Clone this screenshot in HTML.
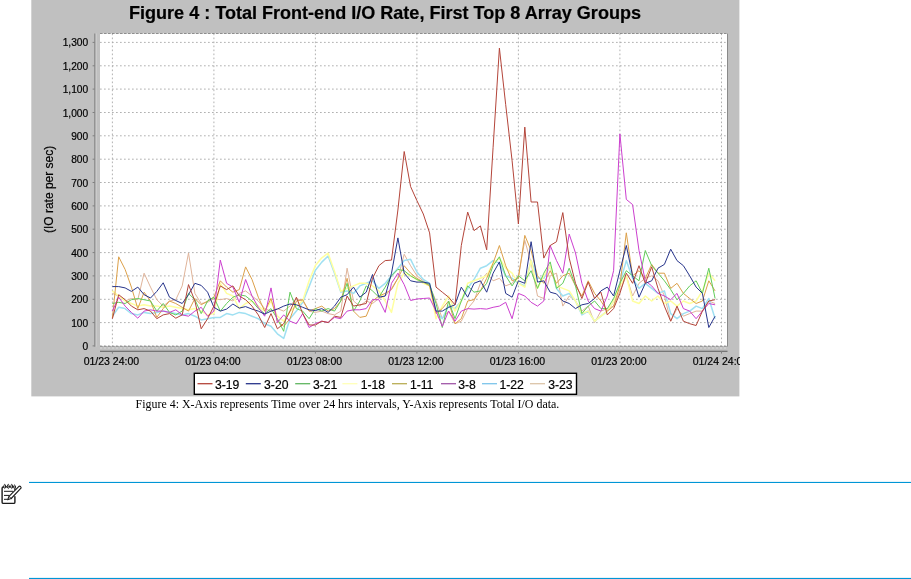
<!DOCTYPE html>
<html><head><meta charset="utf-8"><title>Figure 4</title>
<style>
html,body{margin:0;padding:0;background:#fff;}
body{width:911px;height:579px;position:relative;overflow:hidden;}
.ar{font-family:"Liberation Sans",Arial,sans-serif;fill:#000;stroke:#000;stroke-width:0.2px;}
.se{font-family:"Liberation Serif","Times New Roman",serif;fill:#000;}
</style></head><body>
<svg width="911" height="579" viewBox="0 0 911 579" style="position:absolute;left:0;top:0;will-change:transform">
<rect x="31.3" y="0" width="708.1" height="396.4" fill="#c0c0c0"/>
<rect x="100.0" y="33.5" width="627.5" height="312.4" fill="#ffffff"/>
<line x1="100.0" x2="727.5" y1="345.9" y2="345.9" stroke="#a8a8a8" stroke-width="0.9" stroke-dasharray="1.7,2.3"/>
<line x1="100.0" x2="727.5" y1="322.6" y2="322.6" stroke="#a8a8a8" stroke-width="0.9" stroke-dasharray="1.7,2.3"/>
<line x1="100.0" x2="727.5" y1="299.3" y2="299.3" stroke="#a8a8a8" stroke-width="0.9" stroke-dasharray="1.7,2.3"/>
<line x1="100.0" x2="727.5" y1="275.9" y2="275.9" stroke="#a8a8a8" stroke-width="0.9" stroke-dasharray="1.7,2.3"/>
<line x1="100.0" x2="727.5" y1="252.6" y2="252.6" stroke="#a8a8a8" stroke-width="0.9" stroke-dasharray="1.7,2.3"/>
<line x1="100.0" x2="727.5" y1="229.2" y2="229.2" stroke="#a8a8a8" stroke-width="0.9" stroke-dasharray="1.7,2.3"/>
<line x1="100.0" x2="727.5" y1="205.9" y2="205.9" stroke="#a8a8a8" stroke-width="0.9" stroke-dasharray="1.7,2.3"/>
<line x1="100.0" x2="727.5" y1="182.5" y2="182.5" stroke="#a8a8a8" stroke-width="0.9" stroke-dasharray="1.7,2.3"/>
<line x1="100.0" x2="727.5" y1="159.2" y2="159.2" stroke="#a8a8a8" stroke-width="0.9" stroke-dasharray="1.7,2.3"/>
<line x1="100.0" x2="727.5" y1="135.8" y2="135.8" stroke="#a8a8a8" stroke-width="0.9" stroke-dasharray="1.7,2.3"/>
<line x1="100.0" x2="727.5" y1="112.5" y2="112.5" stroke="#a8a8a8" stroke-width="0.9" stroke-dasharray="1.7,2.3"/>
<line x1="100.0" x2="727.5" y1="89.1" y2="89.1" stroke="#a8a8a8" stroke-width="0.9" stroke-dasharray="1.7,2.3"/>
<line x1="100.0" x2="727.5" y1="65.8" y2="65.8" stroke="#a8a8a8" stroke-width="0.9" stroke-dasharray="1.7,2.3"/>
<line x1="100.0" x2="727.5" y1="42.4" y2="42.4" stroke="#a8a8a8" stroke-width="0.9" stroke-dasharray="1.7,2.3"/>
<line x1="112.4" x2="112.4" y1="33.5" y2="345.9" stroke="#a8a8a8" stroke-width="0.9" stroke-dasharray="1.7,2.3"/>
<line x1="213.9" x2="213.9" y1="33.5" y2="345.9" stroke="#a8a8a8" stroke-width="0.9" stroke-dasharray="1.7,2.3"/>
<line x1="315.4" x2="315.4" y1="33.5" y2="345.9" stroke="#a8a8a8" stroke-width="0.9" stroke-dasharray="1.7,2.3"/>
<line x1="416.9" x2="416.9" y1="33.5" y2="345.9" stroke="#a8a8a8" stroke-width="0.9" stroke-dasharray="1.7,2.3"/>
<line x1="518.4" x2="518.4" y1="33.5" y2="345.9" stroke="#a8a8a8" stroke-width="0.9" stroke-dasharray="1.7,2.3"/>
<line x1="619.9" x2="619.9" y1="33.5" y2="345.9" stroke="#a8a8a8" stroke-width="0.9" stroke-dasharray="1.7,2.3"/>
<line x1="721.5" x2="721.5" y1="33.5" y2="345.9" stroke="#a8a8a8" stroke-width="0.9" stroke-dasharray="1.7,2.3"/>
<line x1="100.0" x2="727.5" y1="33.5" y2="33.5" stroke="#6a6a6a" stroke-width="0.7" stroke-dasharray="2.6,1.4"/>
<line x1="727.5" x2="727.5" y1="33.5" y2="346.5" stroke="#808080" stroke-width="0.9"/>
<line x1="100.0" x2="727.5" y1="346.4" y2="346.4" stroke="#8a8a8a" stroke-width="0.8" stroke-dasharray="2.6,1.4"/>
<line x1="100.0" x2="727.5" y1="348.0" y2="348.0" stroke="#dcdcdc" stroke-width="1.2" stroke-dasharray="2,2"/>
<line x1="96.2" x2="96.2" y1="33.5" y2="346.7" stroke="#cfcfcf" stroke-width="1.1"/>
<line x1="94.8" x2="94.8" y1="33.5" y2="346.7" stroke="#808080" stroke-width="1"/>
<line x1="100.0" x2="727.5" y1="351.3" y2="351.3" stroke="#5c5c5c" stroke-width="1.1"/>
<line x1="92.6" x2="94.8" y1="345.9" y2="345.9" stroke="#808080" stroke-width="1"/>
<line x1="92.6" x2="94.8" y1="322.6" y2="322.6" stroke="#808080" stroke-width="1"/>
<line x1="92.6" x2="94.8" y1="299.3" y2="299.3" stroke="#808080" stroke-width="1"/>
<line x1="92.6" x2="94.8" y1="275.9" y2="275.9" stroke="#808080" stroke-width="1"/>
<line x1="92.6" x2="94.8" y1="252.6" y2="252.6" stroke="#808080" stroke-width="1"/>
<line x1="92.6" x2="94.8" y1="229.2" y2="229.2" stroke="#808080" stroke-width="1"/>
<line x1="92.6" x2="94.8" y1="205.9" y2="205.9" stroke="#808080" stroke-width="1"/>
<line x1="92.6" x2="94.8" y1="182.5" y2="182.5" stroke="#808080" stroke-width="1"/>
<line x1="92.6" x2="94.8" y1="159.2" y2="159.2" stroke="#808080" stroke-width="1"/>
<line x1="92.6" x2="94.8" y1="135.8" y2="135.8" stroke="#808080" stroke-width="1"/>
<line x1="92.6" x2="94.8" y1="112.5" y2="112.5" stroke="#808080" stroke-width="1"/>
<line x1="92.6" x2="94.8" y1="89.1" y2="89.1" stroke="#808080" stroke-width="1"/>
<line x1="92.6" x2="94.8" y1="65.8" y2="65.8" stroke="#808080" stroke-width="1"/>
<line x1="92.6" x2="94.8" y1="42.4" y2="42.4" stroke="#808080" stroke-width="1"/>
<line x1="112.4" x2="112.4" y1="351.3" y2="353.6" stroke="#808080" stroke-width="1"/>
<line x1="213.9" x2="213.9" y1="351.3" y2="353.6" stroke="#808080" stroke-width="1"/>
<line x1="315.4" x2="315.4" y1="351.3" y2="353.6" stroke="#808080" stroke-width="1"/>
<line x1="416.9" x2="416.9" y1="351.3" y2="353.6" stroke="#808080" stroke-width="1"/>
<line x1="518.4" x2="518.4" y1="351.3" y2="353.6" stroke="#808080" stroke-width="1"/>
<line x1="619.9" x2="619.9" y1="351.3" y2="353.6" stroke="#808080" stroke-width="1"/>
<line x1="721.5" x2="721.5" y1="351.3" y2="353.6" stroke="#808080" stroke-width="1"/>
<polyline fill="none" stroke="#e0b49a" stroke-width="1.0" stroke-linejoin="round" points="112.4,293.4 118.7,296.0 125.1,301.0 131.4,298.5 137.8,299.7 144.1,273.2 150.5,287.1 156.8,299.7 163.2,306.1 169.5,301.0 175.8,299.7 182.2,285.9 188.5,253.0 194.9,293.4 201.2,303.5 207.6,302.3 213.9,298.5 220.3,299.7 226.6,298.5 232.9,301.0 239.3,293.4 245.6,290.9 252.0,296.0 258.3,301.0 264.7,308.6 271.0,311.1 277.4,308.6 283.7,311.1 290.0,306.1 296.4,298.5 302.7,301.0 309.1,311.1 315.4,312.4 321.8,311.1 328.1,313.6 334.5,314.9 340.8,311.1 347.1,268.2 353.5,301.0 359.8,306.1 366.2,301.0 372.5,303.5 378.9,298.5 385.2,296.0 391.5,288.4 397.9,278.3 404.2,254.3 410.6,265.7 416.9,275.8 423.3,280.8 429.6,285.9 436.0,301.0 442.3,318.7 448.6,311.1 455.0,323.7 461.3,321.2 467.7,308.6 474.0,301.0 480.4,283.3 486.7,273.2 493.1,280.8 499.4,278.3 505.7,285.9 512.1,283.3 518.4,275.8 524.8,240.4 531.1,263.1 537.5,296.0 543.8,298.5 550.2,275.8 556.5,273.2 562.8,306.1 569.2,296.0 575.5,301.0 581.9,311.1 588.2,306.1 594.6,322.5 600.9,311.1 607.3,308.6 613.6,306.1 619.9,290.9 626.3,275.8 632.6,296.0 639.0,283.3 645.3,278.3 651.7,275.8 658.0,280.8 664.4,296.0 670.7,321.2 677.0,308.6 683.4,316.2 689.7,313.6 696.1,311.1 702.4,311.1 708.8,301.0 715.1,303.5"/>
<polyline fill="none" stroke="#9fe0f2" stroke-width="1.5" stroke-linejoin="round" points="112.4,316.2 118.7,307.3 125.1,308.6 131.4,313.6 137.8,314.9 144.1,312.4 150.5,313.6 156.8,312.4 163.2,311.1 169.5,312.4 175.8,313.6 182.2,314.9 188.5,313.6 194.9,316.2 201.2,319.9 207.6,318.7 213.9,317.4 220.3,317.4 226.6,313.6 232.9,314.9 239.3,312.4 245.6,313.6 252.0,316.2 258.3,318.7 264.7,323.7 271.0,326.3 277.4,333.8 283.7,338.4 290.0,318.7 296.4,311.1 302.7,302.3 309.1,286.6 315.4,270.2 321.8,262.1 328.1,256.0 334.5,273.3 340.8,292.0 347.1,290.9 353.5,293.4 359.8,285.9 366.2,283.3 372.5,280.8 378.9,288.4 385.2,283.3 391.5,275.8 397.9,268.2 404.2,260.6 410.6,259.3 416.9,272.0 423.3,279.5 429.6,283.3 436.0,311.1 442.3,318.7 448.6,306.1 455.0,308.6 461.3,301.0 467.7,288.4 474.0,279.5 480.4,268.2 486.7,265.7 493.1,260.6 499.4,263.1 505.7,275.8 512.1,278.3 518.4,283.3 524.8,285.9 531.1,260.6 537.5,278.3 543.8,278.3 550.2,265.7 556.5,288.4 562.8,296.0 569.2,293.4 575.5,301.0 581.9,314.9 588.2,311.1 594.6,321.2 600.9,316.2 607.3,311.1 613.6,301.0 619.9,283.3 626.3,260.6 632.6,278.3 639.0,288.4 645.3,283.3 651.7,288.4 658.0,293.4 664.4,290.9 670.7,313.6 677.0,318.7 683.4,313.6 689.7,311.1 696.1,306.1 702.4,308.6 708.8,298.5 715.1,318.7"/>
<polyline fill="none" stroke="#ffffa0" stroke-width="1.5" stroke-linejoin="round" points="112.4,290.9 118.7,296.0 125.1,301.0 131.4,303.5 137.8,306.1 144.1,304.8 150.5,306.1 156.8,306.1 163.2,307.3 169.5,306.1 175.8,307.3 182.2,308.6 188.5,309.8 194.9,308.6 201.2,311.1 207.6,314.9 213.9,313.6 220.3,283.3 226.6,293.4 232.9,296.0 239.3,308.6 245.6,303.5 252.0,301.0 258.3,306.1 264.7,311.1 271.0,301.0 277.4,316.2 283.7,321.2 290.0,311.1 296.4,306.1 302.7,300.7 309.1,280.8 315.4,265.6 321.8,257.8 328.1,253.2 334.5,271.4 340.8,291.3 347.1,288.4 353.5,285.9 359.8,283.3 366.2,283.3 372.5,285.9 378.9,290.9 385.2,301.0 391.5,312.4 397.9,283.3 404.2,273.2 410.6,275.8 416.9,279.5 423.3,283.3 429.6,285.9 436.0,318.7 442.3,306.1 448.6,296.0 455.0,311.1 461.3,301.0 467.7,283.3 474.0,280.8 480.4,278.3 486.7,275.8 493.1,263.1 499.4,258.1 505.7,268.2 512.1,273.2 518.4,283.3 524.8,287.1 531.1,260.6 537.5,288.4 543.8,275.8 550.2,265.7 556.5,285.9 562.8,288.4 569.2,290.9 575.5,301.0 581.9,313.6 588.2,311.1 594.6,321.2 600.9,316.2 607.3,311.1 613.6,301.0 619.9,285.9 626.3,275.8 632.6,301.0 639.0,303.5 645.3,296.0 651.7,301.0 658.0,296.0 664.4,303.5 670.7,301.0 677.0,306.1 683.4,301.0 689.7,303.5 696.1,301.0 702.4,290.9 708.8,273.2 715.1,280.8"/>
<polyline fill="none" stroke="#dca04a" stroke-width="1.0" stroke-linejoin="round" points="112.4,317.9 118.7,256.8 125.1,269.4 131.4,287.1 137.8,308.6 144.1,292.2 150.5,301.0 156.8,317.4 163.2,308.6 169.5,301.0 175.8,303.5 182.2,307.3 188.5,311.1 194.9,298.5 201.2,304.8 207.6,301.0 213.9,297.2 220.3,280.8 226.6,287.1 232.9,292.2 239.3,289.6 245.6,266.9 252.0,279.5 258.3,297.2 264.7,311.1 271.0,298.5 277.4,321.2 283.7,326.3 290.0,318.7 296.4,301.0 302.7,299.7 309.1,311.1 315.4,308.6 321.8,306.1 328.1,311.1 334.5,308.6 340.8,301.0 347.1,278.3 353.5,311.1 359.8,317.4 366.2,316.2 372.5,301.0 378.9,296.0 385.2,293.4 391.5,289.6 397.9,278.3 404.2,265.7 410.6,273.2 416.9,278.3 423.3,282.1 429.6,285.9 436.0,313.6 442.3,308.6 448.6,301.0 455.0,323.7 461.3,318.7 467.7,301.0 474.0,299.7 480.4,290.9 486.7,278.3 493.1,263.1 499.4,245.5 505.7,265.7 512.1,280.8 518.4,278.3 524.8,235.4 531.1,250.5 537.5,275.8 543.8,283.3 550.2,270.7 556.5,283.3 562.8,275.8 569.2,273.2 575.5,285.9 581.9,296.0 588.2,280.8 594.6,293.4 600.9,301.0 607.3,311.1 613.6,306.1 619.9,285.9 626.3,232.8 632.6,275.8 639.0,270.7 645.3,278.3 651.7,264.4 658.0,273.2 664.4,273.2 670.7,288.4 677.0,283.3 683.4,293.4 689.7,298.5 696.1,303.5 702.4,301.0 708.8,280.8 715.1,290.9"/>
<polyline fill="none" stroke="#62cc5a" stroke-width="1.0" stroke-linejoin="round" points="112.4,303.5 118.7,302.3 125.1,303.5 131.4,299.7 137.8,298.5 144.1,299.7 150.5,301.0 156.8,311.1 163.2,303.5 169.5,312.4 175.8,314.9 182.2,311.1 188.5,293.4 194.9,299.7 201.2,313.6 207.6,301.0 213.9,297.2 220.3,311.1 226.6,303.5 232.9,297.2 239.3,294.7 245.6,296.0 252.0,301.0 258.3,308.6 264.7,313.6 271.0,308.6 277.4,318.7 283.7,331.3 290.0,292.2 296.4,308.6 302.7,311.1 309.1,318.7 315.4,308.6 321.8,311.1 328.1,308.6 334.5,311.1 340.8,301.0 347.1,283.3 353.5,311.1 359.8,301.0 366.2,285.9 372.5,290.9 378.9,297.2 385.2,287.1 391.5,275.8 397.9,269.4 404.2,270.7 410.6,275.8 416.9,279.5 423.3,282.1 429.6,284.6 436.0,303.5 442.3,327.5 448.6,301.0 455.0,318.7 461.3,301.0 467.7,285.9 474.0,292.2 480.4,290.9 486.7,283.3 493.1,265.7 499.4,256.8 505.7,275.8 512.1,285.9 518.4,275.8 524.8,280.8 531.1,270.7 537.5,288.4 543.8,273.2 550.2,261.9 556.5,288.4 562.8,283.3 569.2,268.2 575.5,285.9 581.9,313.6 588.2,306.1 594.6,301.0 600.9,308.6 607.3,308.6 613.6,298.5 619.9,283.3 626.3,270.7 632.6,275.8 639.0,280.8 645.3,250.5 651.7,265.7 658.0,273.2 664.4,280.8 670.7,289.6 677.0,299.7 683.4,293.4 689.7,285.9 696.1,280.8 702.4,293.4 708.8,268.2 715.1,298.5"/>
<polyline fill="none" stroke="#cc3fcf" stroke-width="1.0" stroke-linejoin="round" points="112.4,311.1 118.7,297.2 125.1,306.1 131.4,312.4 137.8,318.2 144.1,311.1 150.5,309.8 156.8,311.1 163.2,311.1 169.5,312.4 175.8,309.8 182.2,314.9 188.5,316.2 194.9,311.1 201.2,307.3 207.6,316.2 213.9,311.1 220.3,260.1 226.6,283.3 232.9,287.1 239.3,302.3 245.6,279.5 252.0,296.0 258.3,307.3 264.7,316.2 271.0,287.9 277.4,322.5 283.7,314.9 290.0,321.2 296.4,323.7 302.7,313.6 309.1,327.5 315.4,323.7 321.8,321.2 328.1,322.5 334.5,317.4 340.8,318.7 347.1,311.1 353.5,309.8 359.8,309.8 366.2,308.6 372.5,299.7 378.9,299.7 385.2,312.4 391.5,283.3 397.9,273.2 404.2,284.6 410.6,300.5 416.9,299.0 423.3,298.5 429.6,298.0 436.0,311.1 442.3,326.3 448.6,311.1 455.0,321.2 461.3,311.1 467.7,308.6 474.0,309.1 480.4,308.6 486.7,309.1 493.1,307.3 499.4,306.1 505.7,302.3 512.1,318.7 518.4,293.4 524.8,296.0 531.1,302.3 537.5,306.1 543.8,301.0 550.2,245.5 556.5,260.6 562.8,273.2 569.2,234.1 575.5,253.0 581.9,283.3 588.2,301.0 594.6,308.6 600.9,311.1 607.3,296.0 613.6,270.7 619.9,133.9 626.3,199.4 632.6,204.6 639.0,250.5 645.3,280.8 651.7,285.9 658.0,293.4 664.4,296.0 670.7,299.7 677.0,293.4 683.4,308.6 689.7,311.1 696.1,318.7 702.4,311.1 708.8,303.5 715.1,304.8"/>
<polyline fill="none" stroke="#27348b" stroke-width="1.0" stroke-linejoin="round" points="112.4,286.6 118.7,286.6 125.1,287.9 131.4,291.4 137.8,287.1 144.1,294.7 150.5,298.0 156.8,291.4 163.2,282.8 169.5,297.2 175.8,300.5 182.2,303.5 188.5,294.7 194.9,283.3 201.2,285.4 207.6,292.2 213.9,307.3 220.3,311.1 226.6,309.1 232.9,304.0 239.3,308.1 245.6,306.6 252.0,309.1 258.3,311.1 264.7,314.1 271.0,311.1 277.4,309.1 283.7,306.1 290.0,304.0 296.4,304.8 302.7,307.3 309.1,309.8 315.4,310.6 321.8,308.6 328.1,312.4 334.5,306.1 340.8,297.2 347.1,294.7 353.5,287.1 359.8,297.2 366.2,292.2 372.5,274.5 378.9,297.2 385.2,296.0 391.5,273.2 397.9,237.9 404.2,273.2 410.6,280.8 416.9,282.1 423.3,282.1 429.6,283.3 436.0,311.1 442.3,311.1 448.6,307.3 455.0,304.8 461.3,287.1 467.7,297.2 474.0,283.3 480.4,280.8 486.7,292.2 493.1,273.2 499.4,261.9 505.7,293.4 512.1,297.2 518.4,280.8 524.8,283.3 531.1,241.7 537.5,282.1 543.8,280.8 550.2,292.2 556.5,293.9 562.8,301.0 569.2,303.5 575.5,308.6 581.9,304.8 588.2,303.5 594.6,298.5 600.9,290.9 607.3,287.1 613.6,296.0 619.9,270.7 626.3,245.5 632.6,275.8 639.0,297.2 645.3,283.3 651.7,280.8 658.0,268.2 664.4,264.4 670.7,249.2 677.0,260.6 683.4,265.7 689.7,275.8 696.1,287.1 702.4,293.4 708.8,327.5 715.1,316.2"/>
<polyline fill="none" stroke="#b4453a" stroke-width="1.0" stroke-linejoin="round" points="112.4,318.7 118.7,294.7 125.1,299.7 131.4,306.1 137.8,309.8 144.1,308.6 150.5,311.1 156.8,318.7 163.2,314.9 169.5,313.6 175.8,318.2 182.2,314.9 188.5,284.6 194.9,301.0 201.2,328.8 207.6,318.7 213.9,306.1 220.3,285.9 226.6,289.6 232.9,285.9 239.3,296.0 245.6,299.7 252.0,306.1 258.3,314.9 264.7,327.5 271.0,313.6 277.4,328.8 283.7,323.7 290.0,311.1 296.4,297.2 302.7,313.6 309.1,325.0 315.4,325.0 321.8,321.2 328.1,322.5 334.5,316.2 340.8,317.4 347.1,296.0 353.5,306.1 359.8,304.8 366.2,303.5 372.5,278.3 378.9,265.7 385.2,260.6 391.5,260.1 397.9,210.0 404.2,151.5 410.6,186.6 416.9,200.6 423.3,214.0 429.6,232.9 436.0,287.1 442.3,292.2 448.6,297.2 455.0,304.8 461.3,245.5 467.7,212.1 474.0,230.6 480.4,225.9 486.7,249.8 493.1,147.3 499.4,48.1 505.7,104.7 512.1,160.8 518.4,224.0 524.8,127.1 531.1,202.0 537.5,202.0 543.8,258.1 550.2,245.5 556.5,241.7 562.8,212.6 569.2,258.1 575.5,283.3 581.9,298.5 588.2,282.1 594.6,298.5 600.9,292.2 607.3,314.9 613.6,308.6 619.9,293.4 626.3,273.2 632.6,283.3 639.0,265.7 645.3,283.3 651.7,266.9 658.0,288.4 664.4,306.1 670.7,321.2 677.0,306.1 683.4,321.2 689.7,323.7 696.1,325.5 702.4,311.1 708.8,301.0 715.1,299.7"/>
<rect x="194.3" y="373.3" width="382.2" height="21" fill="#ffffff" stroke="#000" stroke-width="1.4"/>
<line x1="197.5" x2="212.5" y1="383.7" y2="383.7" stroke="#b4453a" stroke-width="1.3"/>
<text x="214.9" y="388.5" font-size="12.2" class="ar">3-19</text>
<line x1="245.8" x2="260.8" y1="383.7" y2="383.7" stroke="#27348b" stroke-width="1.3"/>
<text x="264.1" y="388.5" font-size="12.2" class="ar">3-20</text>
<line x1="295.2" x2="310.2" y1="383.7" y2="383.7" stroke="#5fb660" stroke-width="1.3"/>
<text x="313.0" y="388.5" font-size="12.2" class="ar">3-21</text>
<line x1="342.4" x2="357.4" y1="383.7" y2="383.7" stroke="#ffffb8" stroke-width="1.3"/>
<text x="360.7" y="388.5" font-size="12.2" class="ar">1-18</text>
<line x1="392" x2="407" y1="383.7" y2="383.7" stroke="#b9ad55" stroke-width="1.3"/>
<text x="409.9" y="388.5" font-size="12.2" class="ar">1-11</text>
<line x1="441" x2="456" y1="383.7" y2="383.7" stroke="#a157a8" stroke-width="1.3"/>
<text x="458.2" y="388.5" font-size="12.2" class="ar">3-8</text>
<line x1="482" x2="497" y1="383.7" y2="383.7" stroke="#7cc4ea" stroke-width="1.3"/>
<text x="499.5" y="388.5" font-size="12.2" class="ar">1-22</text>
<line x1="530" x2="545" y1="383.7" y2="383.7" stroke="#dcc4a8" stroke-width="1.3"/>
<text x="548.2" y="388.5" font-size="12.2" class="ar">3-23</text>
<text x="385" y="18.9" font-size="17.8" font-weight="bold" text-anchor="middle" class="ar" textLength="512" lengthAdjust="spacingAndGlyphs">Figure 4 : Total Front-end I/O Rate, First Top 8 Array Groups</text>
<text x="88.2" y="349.9" font-size="10.2" text-anchor="end" class="ar">0</text>
<text x="88.2" y="326.6" font-size="10.2" text-anchor="end" class="ar">100</text>
<text x="88.2" y="303.3" font-size="10.2" text-anchor="end" class="ar">200</text>
<text x="88.2" y="279.9" font-size="10.2" text-anchor="end" class="ar">300</text>
<text x="88.2" y="256.6" font-size="10.2" text-anchor="end" class="ar">400</text>
<text x="88.2" y="233.2" font-size="10.2" text-anchor="end" class="ar">500</text>
<text x="88.2" y="209.9" font-size="10.2" text-anchor="end" class="ar">600</text>
<text x="88.2" y="186.5" font-size="10.2" text-anchor="end" class="ar">700</text>
<text x="88.2" y="163.2" font-size="10.2" text-anchor="end" class="ar">800</text>
<text x="88.2" y="139.8" font-size="10.2" text-anchor="end" class="ar">900</text>
<text x="88.2" y="116.5" font-size="10.2" text-anchor="end" class="ar">1,000</text>
<text x="88.2" y="93.1" font-size="10.2" text-anchor="end" class="ar">1,100</text>
<text x="88.2" y="69.8" font-size="10.2" text-anchor="end" class="ar">1,200</text>
<text x="88.2" y="46.4" font-size="10.2" text-anchor="end" class="ar">1,300</text>
<clipPath id="cg"><rect x="31" y="0" width="708.8" height="396.4"/></clipPath>
<text x="111.4" y="365.3" font-size="10.5" text-anchor="middle" class="ar" clip-path="url(#cg)">01/23 24:00</text>
<text x="212.9" y="365.3" font-size="10.5" text-anchor="middle" class="ar" clip-path="url(#cg)">01/23 04:00</text>
<text x="314.4" y="365.3" font-size="10.5" text-anchor="middle" class="ar" clip-path="url(#cg)">01/23 08:00</text>
<text x="415.9" y="365.3" font-size="10.5" text-anchor="middle" class="ar" clip-path="url(#cg)">01/23 12:00</text>
<text x="517.4" y="365.3" font-size="10.5" text-anchor="middle" class="ar" clip-path="url(#cg)">01/23 16:00</text>
<text x="618.9" y="365.3" font-size="10.5" text-anchor="middle" class="ar" clip-path="url(#cg)">01/23 20:00</text>
<text x="720.5" y="365.3" font-size="10.5" text-anchor="middle" class="ar" clip-path="url(#cg)">01/24 24:00</text>
<text transform="translate(53.1,189.4) rotate(-90)" font-size="12" text-anchor="middle" class="ar">(IO rate per sec)</text>
<text x="135.6" y="408" font-size="11.9" class="se" textLength="423.7" lengthAdjust="spacingAndGlyphs">Figure 4: X-Axis represents Time over 24 hrs intervals, Y-Axis represents Total I/O data.</text>
<rect x="29" y="481.9" width="882" height="1.1" fill="#0096d6"/>
<rect x="29" y="577.9" width="882" height="1.1" fill="#0096d6"/>
<g fill="none" stroke="#1a1a1a" stroke-width="1.4" stroke-linecap="round" stroke-linejoin="round">
<path d="M3.4,486.9 Q2.1,486.9 2.1,488.2 L2.1,502.2 Q2.1,503.4 3.4,503.4 L13.7,503.4 Q14.9,503.4 14.9,502.2 L14.9,496.6"/>
<path d="M3.4,486.9 L13.7,486.9 Q14.9,486.9 14.9,488.2 L14.9,489.6" stroke-width="1.2"/>
<path d="M4.4,491.3 L12.6,491.3 M4.4,495.4 L9,495.4 M4.4,499.3 L6.8,499.3" stroke-width="1"/>
<g stroke-width="0.9" fill="#fff"><ellipse cx="4.8" cy="486.4" rx="0.9" ry="2.1"/><ellipse cx="8.3" cy="486.4" rx="0.9" ry="2.1"/><ellipse cx="11.8" cy="486.4" rx="0.9" ry="2.1"/><ellipse cx="14.6" cy="486.9" rx="0.8" ry="1.9"/></g>
<path d="M19.2,486.2 Q20.6,485.9 21.2,487.9 L11.2,498.5 L7.6,499.8 L9,496.4 Z" stroke-width="1.1" fill="#fff"/>
<path d="M9,496.4 L11.2,498.5" stroke-width="0.9"/>
</g>
</svg>
</body></html>
